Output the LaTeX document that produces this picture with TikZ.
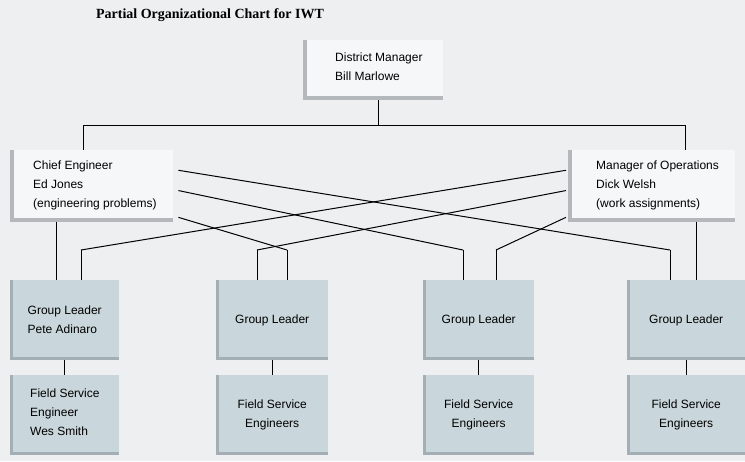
\documentclass[tikz,border=0pt]{standalone}
\usepackage{fontspec}
\setmainfont{Liberation Sans}
\newfontfamily\titlefont{Liberation Serif}
\usetikzlibrary{calc}
\definecolor{bg}{HTML}{EDEFF1}
\definecolor{lite}{HTML}{F5F7F8}
\definecolor{edge}{HTML}{B4B8BA}
\definecolor{gl}{HTML}{C9D6DB}
\definecolor{gledge}{HTML}{A3AFB4}
\begin{document}
\begin{tikzpicture}[x=1pt,y=-1pt,
  txt/.style={font=\fontsize{12}{19}\selectfont,inner sep=0pt},
  top/.style={fill=lite,draw=none,anchor=north west,inner sep=0pt},
  grp/.style={fill=gl,draw=none,anchor=north west,inner sep=0pt},
  ln/.style={line width=1pt,black},
  thin/.style={line width=0.6pt,black}]
\fill[bg] (0,0) rectangle (745,461);
\useasboundingbox (0,0) rectangle (745,461);
\node[font=\titlefont\bfseries\fontsize{14}{16}\selectfont] (title) at (210,15) {Partial Organizational Chart for IWT};
% top boxes
\node[top,minimum width=140pt,minimum height=60pt] (dm) at (303,40) {};
\node[top,minimum width=163pt,minimum height=72pt] (ce) at (10,150) {};
\node[top,minimum width=167pt,minimum height=72pt] (mo) at (568,150) {};
\foreach \n in {dm,ce,mo}{
  \draw[edge,line width=4pt] ($(\n.north west)+(2,0)$) -- ($(\n.south west)+(2,-2)$) -- ($(\n.south east)+(0,-2)$);}
\node[txt,align=left,anchor=north west] (dmt) at (335,53) {District Manager\\Bill Marlowe};
\node[txt,align=left,anchor=north west] (cet) at (33,161) {Chief Engineer\\Ed Jones\\(engineering problems)};
\node[txt,align=left,anchor=north west] (mot) at (596,161) {Manager of Operations\\Dick Welsh\\(work assignments)};
% group leaders and field service
\foreach \i/\x/\w in {1/10/109,2/216/112,3/423/111,4/627/118}{
  \node[grp,minimum width=\w pt,minimum height=80pt] (g\i) at (\x,280) {};
  \node[grp,minimum width=\w pt,minimum height=80pt] (f\i) at (\x,375) {};
  \draw[gledge,line width=3pt] ($(g\i.north west)+(1.5,0)$) -- ($(g\i.south west)+(1.5,-1.5)$) -- ($(g\i.south east)+(0,-1.5)$);
  \draw[gledge,line width=3pt] ($(f\i.north west)+(1.5,0)$) -- ($(f\i.south west)+(1.5,-1.5)$) -- ($(f\i.south east)+(0,-1.5)$);
  \draw[thin] (g\i.south) -- (f\i.north);
}
\node[txt,align=left] (g1t) at (g1) {Group Leader\\Pete Adinaro};
\node[txt] (g2t) at (g2) {Group Leader};
\node[txt] (g3t) at (g3) {Group Leader};
\node[txt] (g4t) at (g4) {Group Leader};
\node[txt,align=left,anchor=north west] (f1t) at (30,389) {Field Service\\Engineer\\Wes Smith};
\node[txt,align=center] (f2t) at (f2) {Field Service\\Engineers};
\node[txt,align=center] (f3t) at (f3) {Field Service\\Engineers};
\node[txt,align=center] (f4t) at (f4) {Field Service\\Engineers};
% top connectors
\coordinate (bus) at (378,125);
\coordinate (busL) at (83,125);
\coordinate (busR) at (685,125);
\draw[thin] (dm.south -| bus) -- (bus);
\draw[thin] (busL) -- (busR);
\draw[thin] (busL) -- (busL |- ce.north);
\draw[thin] (busR) -- (busR |- mo.north);
% drop points
\coordinate (d1a) at (56,250); \coordinate (d1b) at (81,250);
\coordinate (d2a) at (257,250); \coordinate (d2b) at (287,250);
\coordinate (d3a) at (463,250); \coordinate (d3b) at (496,250);
\coordinate (d4a) at (670,250); \coordinate (d4b) at (696,250);
\draw[thin] (d1a |- ce.south) -- (d1a |- g1.north);
\draw[thin] (d4b |- mo.south) -- (d4b |- g4.north);
\foreach \d/\g in {d1b/g1,d2a/g2,d2b/g2,d3a/g3,d3b/g3,d4a/g4}{
  \draw[thin] (\d) -- (\d |- \g.north);}
% crossing lines
\draw[ln] ($(ce.north east)!0.28!(ce.south east)+(5,0)$) -- (d4a);
\draw[ln] ($(ce.north east)!0.56!(ce.south east)+(5,0)$) -- (d3a);
\draw[ln] ($(ce.north east)!0.93!(ce.south east)+(5,0)$) -- (d2b);
\draw[ln] ($(mo.north west)!0.28!(mo.south west)+(-2,0)$) -- (d1b);
\draw[ln] ($(mo.north west)!0.56!(mo.south west)+(-2,0)$) -- (d2a);
\draw[ln] ($(mo.north west)!0.93!(mo.south west)+(-2,0)$) -- (d3b);
\end{tikzpicture}
\end{document}
